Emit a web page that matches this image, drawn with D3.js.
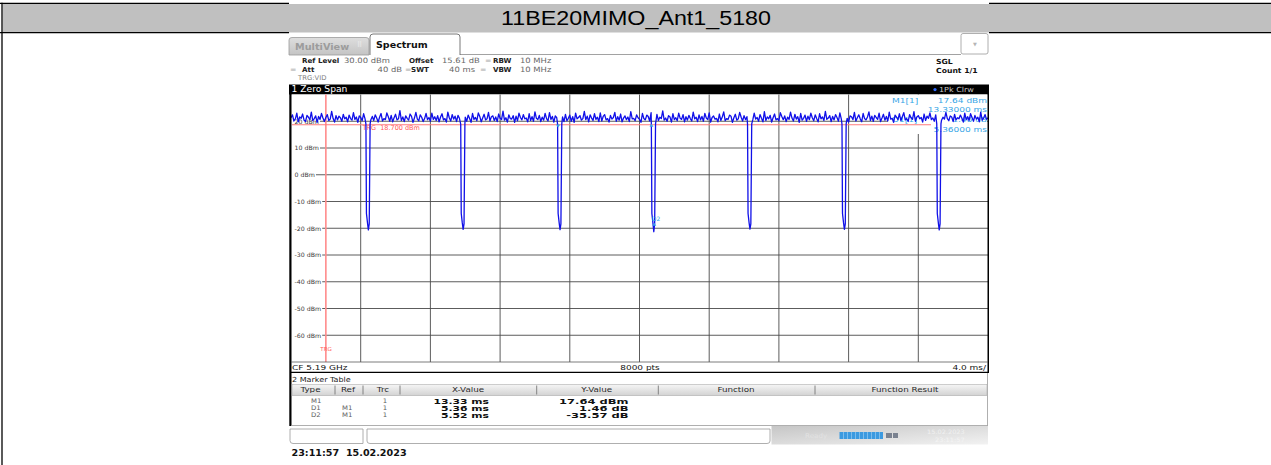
<!DOCTYPE html>
<html><head><meta charset="utf-8">
<script src="https://cdn.jsdelivr.net/npm/d3@7"></script>
<style>body{margin:0;background:#fff}svg{display:block}</style>
</head><body><svg id="c" width="1271" height="465"></svg>
<script>
// ---------------- data ----------------
const title = "11BE20MIMO_Ant1_5180";
const yTicks = [20, 10, 0, -10, -20, -30, -40, -50, -60];
const gridTimes = [2, 6, 10, 14, 18, 22, 26, 30, 34];
const timeDomain = [-2, 38];          // ms, trigger at 0
const levelDomain = [-70, 30];        // dBm
const trgLevel = 18.7;
const trgTime = 0;
const noiseLevels = [
21.3,22.4,20.1,20.9,23.0,19.8,21.6,21.1,22.7,20.4,19.9,22.2,21.5,20.6,23.4,20.2,21.0,22.0,19.6,21.8,
20.7,22.9,21.2,19.9,21.4,22.5,20.3,20.8,23.7,21.0,19.7,22.1,20.5,21.9,21.3,20.0,22.6,20.9,21.5,19.8,
22.3,21.0,20.4,23.2,20.7,21.6,19.6,22.0,21.4,20.2,22.8,20.9,21.1,19.9,23.5,20.6,21.8,20.3,22.4,21.2,
19.7,21.5,22.9,20.1,21.0,20.6,23.1,21.7,20.0,22.2,19.8,21.3,22.6,20.5,20.9,24.0,20.3,21.6,19.9,22.0,
21.1,20.4,22.7,21.8,19.6,21.2,23.3,20.8,20.2,22.4,21.5,19.9,21.0,22.9,20.6,21.4,20.0,23.0,20.7,21.7,
20.3,22.1,19.8,21.6,22.8,20.5,21.0,19.7,23.4,21.3,20.1,22.5,20.8,21.9,19.9,22.2,21.1,20.4,23.6,20.6,
21.5,20.0,22.3,21.0,19.6,22.9,20.7,21.4,20.2,23.1,21.8,19.8,21.2,22.6,20.5,20.9,23.3,20.1,21.7,22.0,
20.3,21.6,19.9,22.7,21.1,20.6,23.8,20.4,21.3,19.7,22.4,21.0,20.8,22.1,19.6,21.9,20.2,23.0,21.4,20.5,
22.5,20.9,21.2,19.8,22.8,20.3,21.7,20.0,23.5,21.1,20.6,22.2,19.9,21.5,20.4,22.9,21.0,20.1,23.2,20.7,
21.8,19.7,22.0,21.3,20.5,23.4,20.8,21.6,19.9,22.6,20.2,21.1,22.3,20.0,21.7,19.6,23.0,20.9,21.4,22.1,
20.4,21.0,23.7,20.6,21.9,19.8,22.4,21.2,20.3,22.8,20.7,21.5,19.9,23.1,20.1,21.8,22.5,20.5,21.0,19.7,
22.2,20.8,21.4,23.3,20.0,21.7,20.4,22.7,19.8,21.2,22.0,20.6,21.6,19.9,23.6,20.9,21.1,20.2,22.4,21.3,
20.7,19.6,22.9,21.0,20.5,22.3,21.8,20.1,23.2,20.8,21.4,19.9,22.6,20.3,21.5,21.0,23.9,20.4,21.2,20.0,
22.1,21.6,19.7,22.8,20.6,21.3,20.2,23.0,21.1,20.7,22.5,19.8,21.7,20.4,22.2,21.0,20.1,23.4,20.9,21.5,
19.9,22.4,20.5,21.8,20.0,22.9,21.2,20.6,23.1,19.7,21.4,22.0,20.8,21.1,19.8,22.7,20.3,21.6,23.5,20.2,
21.0,20.7,22.3,21.9,19.6,21.3,22.6,20.4,20.9,23.3,21.5,20.1,22.1,20.6,21.7,19.9,22.8,21.2,20.5,23.0,
20.8,21.4,20.0,22.5,21.1,19.8,23.6,20.3,21.6,20.9,22.2,19.7,21.3,22.7,20.5,21.0,20.2,23.2,21.8,20.6,
22.0,19.9,21.5,20.7,23.4,21.2,20.1,22.6,20.8,21.7,19.6,22.9,20.4,21.1,22.3,20.0,21.9,20.6,23.0,21.3,
20.2,22.4,21.0,19.8,22.8,20.9,21.6,20.3,23.7,20.7,21.2,22.1,19.9,21.8,20.5,22.5,21.4,20.0,23.1,20.8,
21.5,20.4,22.7,21.1,19.7,22.0,21.7,20.6,23.3,20.1,21.3,22.4,20.9,19.8,22.9,21.0,20.5,21.6,23.5,20.3,
21.9,20.0,22.2,21.4,20.7,23.0,19.9,21.2,22.6,20.4,21.8,20.1,23.4,20.8,21.1,19.6,22.3,21.5,20.6,22.8,
20.2,21.7,23.2,20.5,21.0,19.9,22.5,21.3,20.7,23.6,20.0,21.6,22.1,20.9,21.4,19.7,22.7,20.3,21.9,21.1,
23.1,20.6,21.2,20.0,22.4,21.8,19.8,22.9,20.4,21.5,20.8,23.3,21.0,20.2,22.0,21.6,19.9,22.6,20.5,21.3,
20.9,22.3,21.1,19.7,23.0,20.6,21.7,20.3,22.8,21.4,20.0,22.2,20.8,21.5,19.8,23.4,20.4,21.2,22.5,20.7,
21.3
];
const dipTimes = [2.30, 7.74, 13.30, 18.68, 24.20, 29.62, 35.06];   // ms
const dipMins  = [-20.6, -20.4, -20.5, -21.3, -20.3, -20.4, -20.6]; // dBm
const dipProfileTimes  = [0, 0.03, 0.09, 0.14, 0.19, 0.24];
const dipProfileLevels = [18.9, -14.5, -18.0, null, -18.4, 19.0];    // null = dip minimum
const markerNames  = ["M1", "D1", "D2"];
const markerTimes  = [13.33, 18.69, 18.85];
const markerLevels = [17.64, 19.10, -17.93];
const tableHeaders = ["Type", "Ref", "Trc", "X-Value", "Y-Value", "Function", "Function Result"];
const tableTypes = ["M1", "D1", "D2"];
const tableRefs  = ["", "M1", "M1"];
const tableTrcs  = ["1", "1", "1"];
const tableX     = ["13.33 ms", "5.36 ms", "5.52 ms"];
const tableY     = ["17.64 dBm", "1.46 dB", "-35.57 dB"];

// ---------------- drawing ----------------
const svg = d3.select("#c");
const defs = svg.append("defs");
function grad(id, x2, y2, c0, c1) {
  const g = defs.append("linearGradient").attr("id", id).attr("x1",0).attr("y1",0).attr("x2",x2).attr("y2",y2);
  g.append("stop").attr("offset","0").attr("stop-color",c0);
  g.append("stop").attr("offset","1").attr("stop-color",c1);
}
grad("hdr", 0, 1, "#f6f6f6", "#d2d2d2");
grad("st", 1, 1, "#c6c6c6", "#f2f2f2");
grad("tab", 0, 1, "#dedede", "#c4c4c4");

function txt(g, x, y, s, o = {}) {
  return g.append("text")
    .attr("transform", `translate(${x},${y}) scale(${o.sx || 1},1)`)
    .attr("font-family", o.ff || "DejaVu Sans")
    .attr("font-size", o.fs || 7)
    .attr("font-weight", o.fw || "normal")
    .attr("fill", o.fill || "#000")
    .attr("text-anchor", o.anchor || "start")
    .attr("dominant-baseline", "central")
    .style("white-space", "pre")
    .text(s);
}

// Word-table frame
svg.append("rect").attr("x",2.7).attr("y",4).attr("width",1271).attr("height",28.5).attr("fill","#c0c0c0");
[[0,289],[989,1271]].forEach(([a,b]) => {
  svg.append("line").attr("x1",a).attr("x2",b).attr("y1",3.3).attr("y2",3.3).attr("stroke","#000").attr("stroke-width",1.3);
  svg.append("line").attr("x1",a).attr("x2",b).attr("y1",32.6).attr("y2",32.6).attr("stroke","#000").attr("stroke-width",1.3);
});
svg.append("line").attr("x1",2).attr("x2",2).attr("y1",2.7).attr("y2",465).attr("stroke","#000").attr("stroke-width",1.3);
svg.append("text").attr("x",636).attr("y",25).attr("text-anchor","middle")
  .attr("font-family","Liberation Sans, Arial").attr("font-size",20).attr("fill","#000")
  .attr("textLength",270).attr("lengthAdjust","spacingAndGlyphs").text(title);

// screenshot area
const s = svg.append("g");
s.append("rect").attr("x",289).attr("y",33).attr("width",700).attr("height",425).attr("fill","#fff");

// tabs
s.append("path").attr("d","M289,55 L289,40 Q289,37.5 292,37.5 L366,37.5 Q369,37.5 369,40 L369,55 Z")
  .attr("fill","url(#tab)").attr("stroke","#9a9a9a").attr("stroke-width",0.8);
txt(s, 295, 46.5, "MultiView", {fs:9, fw:"bold", fill:"#9c9c9c", sx:1.08});
s.append("text").attr("x",357).attr("y",47).attr("font-size",7).attr("fill","#f4f4f4").attr("font-family","DejaVu Sans").text("⠿");
s.append("line").attr("x1",460).attr("x2",961).attr("y1",54.5).attr("y2",54.5).attr("stroke","#8a8a8a").attr("stroke-width",0.8);
s.append("path").attr("d","M370,55 L370,37 Q370,34 373,34 L457,34 Q460,34 460,37 L460,55")
  .attr("fill","#fff").attr("stroke","#6a6a6a").attr("stroke-width",0.9);
txt(s, 376, 44.5, "Spectrum", {fs:9, fw:"bold", fill:"#111", sx:1.06});
s.append("rect").attr("x",961).attr("y",33.5).attr("width",27).attr("height",20.5).attr("rx",2)
  .attr("fill","#fff").attr("stroke","#9a9a9a").attr("stroke-width",0.8);
txt(s, 975, 44, "▼", {fs:5, fill:"#b5b5b5", anchor:"middle"});

// info lines
const lab = {fs:6.8, sx:1.05, fw:"bold", fill:"#222"};
const val = {fs:7.3, sx:1.15, fill:"#666"};
const valE = Object.assign({anchor:"end"}, val);
const dot = {fs:7, sx:1.1, fill:"#a8a8a8"};
txt(s, 302, 61, "Ref Level", lab); txt(s, 344, 61, "30.00 dBm", val);
txt(s, 409, 61, "Offset", lab); txt(s, 442, 61, "15.61 dB", val);
txt(s, 485, 61, "=", dot); txt(s, 493, 61, "RBW", lab); txt(s, 520, 61, "10 MHz", val);
txt(s, 290, 70, "=", dot); txt(s, 302, 70, "Att", lab); txt(s, 402, 70, "40 dB", valE);
txt(s, 405, 70, "=", dot); txt(s, 411, 70, "SWT", lab); txt(s, 475, 70, "40 ms", valE);
txt(s, 480, 70, "=", dot); txt(s, 493, 70, "VBW", lab); txt(s, 520, 70, "10 MHz", val);
txt(s, 298, 78, "TRG:VID", {fs:6.5, fill:"#808080", sx:1.05});
txt(s, 936, 61.5, "SGL", {fs:7, fw:"bold", fill:"#111", sx:1.1});
txt(s, 936, 70.5, "Count 1/1", {fs:7, fw:"bold", fill:"#111", sx:1.1});

// plot panel
const x = d3.scaleLinear().domain(timeDomain).range([291, 988]);
const y = d3.scaleLinear().domain(levelDomain).range([362, 94.5]);
s.append("rect").attr("x",289).attr("y",84.5).attr("width",700).attr("height",10).attr("fill","#000");
txt(s, 291.5, 89.5, "1 Zero Span", {fs:8, fill:"#fff", sx:1.15});
s.append("circle").attr("cx",935).attr("cy",89.6).attr("r",1.6).attr("fill","#2f6bff");
txt(s, 939, 89.5, "1Pk Clrw", {fs:7, fill:"#c8c8c8", sx:1.15});
s.append("rect").attr("x",291.5).attr("y",94.5).attr("width",696).attr("height",267.5).attr("fill","#fff");

const grid = s.append("g");
grid.selectAll("line.v").data(gridTimes).join("line").attr("class","v")
  .attr("x1",d=>x(d)).attr("x2",d=>x(d)).attr("y1",y(levelDomain[1])).attr("y2",y(levelDomain[0]))
  .attr("stroke","#4a4a4a").attr("stroke-width",0.9);
grid.selectAll("line.h").data(yTicks).join("line").attr("class","h")
  .attr("x1",292).attr("x2",988).attr("y1",d=>y(d)).attr("y2",d=>y(d))
  .attr("stroke","#4a4a4a").attr("stroke-width",0.9);
yTicks.forEach(v => {
  const t = txt(grid, 294.5, y(v), v + " dBm", {fs:6, fill:"#3a3a3a", sx:1.05});
  const bb = t.node().getBBox();
  grid.insert("rect", () => t.node()).attr("x",292).attr("y",y(v)-3).attr("width",(bb.width*1.05)+3.5).attr("height",6).attr("fill","#fff");
});

// marker info box
s.append("rect").attr("x",888).attr("y",95).attr("width",99).attr("height",39).attr("fill","#fff");
const cy = "#38a6e6";
txt(s, 892, 100, "M1[1]", {fs:7.5, fill:cy, sx:1.2});
txt(s, 987, 100, "17.64 dBm", {fs:7.5, fill:cy, sx:1.2, anchor:"end"});
txt(s, 987, 109.3, "13.33000 ms", {fs:7.5, fill:cy, sx:1.2, anchor:"end"});
txt(s, 892, 119, "D1[1]", {fs:7.5, fill:cy, sx:1.2});
txt(s, 987, 119, "1.46 dB", {fs:7.5, fill:cy, sx:1.2, anchor:"end"});

// trigger lines
s.append("line").attr("x1",x(trgTime)).attr("x2",x(trgTime)).attr("y1",94.5).attr("y2",362)
  .attr("stroke","#ff8c8c").attr("stroke-width",1.6);
s.append("line").attr("x1",292).attr("x2",931).attr("y1",y(trgLevel)).attr("y2",y(trgLevel))
  .attr("stroke","#ff7b7b").attr("stroke-width",1.2);
txt(s, 362.5, y(trgLevel)+3.3, "TRG  18.700 dBm", {fs:6.5, fill:"#ff5a5a"});
txt(s, 326, 348.5, "TRG", {fs:5.5, fill:"#ff5a5a", anchor:"middle"});
s.append("rect").attr("x",931).attr("y",125).attr("width",56).attr("height",9).attr("fill","#fff");
txt(s, 987, 129.3, "5.36000 ms", {fs:7.5, fill:cy, sx:1.2, anchor:"end"});

// trace
const nStep = (timeDomain[1] - timeDomain[0]) / (noiseLevels.length - 1);
let pts = noiseLevels.map((v, i) => ({t: timeDomain[0] + i * nStep, v}));
dipTimes.forEach((t0, k) => {
  const tEnd = t0 + dipProfileTimes[dipProfileTimes.length - 1];
  pts = pts.filter(p => p.t < t0 || p.t > tEnd);
  dipProfileTimes.forEach((dt, j) => {
    const lv = dipProfileLevels[j];
    pts.push({t: t0 + dt, v: lv === null ? dipMins[k] : lv});
  });
});
pts.sort((a, b) => a.t - b.t);
const line = d3.line().x(d => x(d.t)).y(d => y(d.v));
s.append("path").datum(pts).attr("d", line).attr("fill","none")
  .attr("stroke","#1010e8").attr("stroke-width",1.3).attr("stroke-linejoin","round");

// markers
markerNames.forEach((m, i) => {
  const mx = x(markerTimes[i]), my = y(markerLevels[i]);
  if (m === "M1") {
    s.append("path").attr("d",`M${mx-2.2},${my-3} L${mx+2.2},${my-3} L${mx},${my} Z`).attr("fill",cy);
  } else {
    s.append("path").attr("d",`M${mx-2},${my+3} L${mx+2},${my+3} L${mx},${my} Z`).attr("fill",cy);
    if (m === "D2") txt(s, mx-2.5, my-4.5, m, {fs:6, fill:cy});
  }
});

// panel borders
s.append("rect").attr("x",289.3).attr("y",94).attr("width",2.2).attr("height",332).attr("fill","#000");
s.append("rect").attr("x",987.5).attr("y",94).attr("width",1.5).attr("height",279).attr("fill","#000");
s.append("line").attr("x1",291).attr("x2",988).attr("y1",362).attr("y2",362).attr("stroke","#5a5a5a").attr("stroke-width",0.8);
s.append("line").attr("x1",291).attr("x2",989).attr("y1",372.3).attr("y2",372.3).attr("stroke","#000").attr("stroke-width",1.2);
txt(s, 292, 367, "CF 5.19 GHz", {fs:7.6, fill:"#111", sx:1.18});
txt(s, 640, 367, "8000 pts", {fs:7.6, fill:"#111", sx:1.18, anchor:"middle"});
txt(s, 986, 367, "4.0 ms/", {fs:7.6, fill:"#111", sx:1.18, anchor:"end"});
s.append("line").attr("x1",987.5).attr("x2",987.5).attr("y1",373).attr("y2",425.5).attr("stroke","#9a9a9a").attr("stroke-width",0.8);
s.append("line").attr("x1",291).attr("x2",988).attr("y1",425.5).attr("y2",425.5).attr("stroke","#9a9a9a").attr("stroke-width",0.8);

// marker table
txt(s, 292, 379.3, "2 Marker Table", {fs:7, fill:"#222", sx:1.15});
s.append("rect").attr("x",292).attr("y",384.3).attr("width",695).attr("height",11.4).attr("fill","url(#hdr)")
  .attr("stroke","#b0b0b0").attr("stroke-width",0.6);
const colSeps = [335, 363, 400, 536.7, 658.3, 815];
const colCenters = [310.5, 348, 383, 468, 596.7, 736, 905];
colSeps.forEach(c => s.append("line").attr("x1",c).attr("x2",c).attr("y1",385.5).attr("y2",394.5).attr("stroke","#6a6a6a").attr("stroke-width",0.8));
tableHeaders.forEach((h, i) => txt(s, colCenters[i], 390, h, {fs:7.3, fill:"#2a2a2a", sx:1.2, anchor:"middle"}));
const rowY = [401, 408, 415];
tableTypes.forEach((tp, r) => {
  txt(s, 311, rowY[r], tp, {fs:6.3, fill:"#606060", sx:1.1});
  txt(s, 342, rowY[r], tableRefs[r], {fs:6.3, fill:"#606060", sx:1.1});
  txt(s, 385, rowY[r], tableTrcs[r], {fs:6.3, fill:"#606060", sx:1.1, anchor:"middle"});
  txt(s, 489, rowY[r], tableX[r], {fs:7.2, fw:"bold", fill:"#111", sx:1.5, anchor:"end"});
  txt(s, 628.5, rowY[r], tableY[r], {fs:7.2, fw:"bold", fill:"#111", sx:1.6, anchor:"end"});
});

// status bar
s.append("rect").attr("x",771.5).attr("y",426).attr("width",216.5).attr("height",18.5).attr("fill","url(#st)");
s.append("path").attr("d","M290,429 L363,429 L363,443.5 L293,443.5 Q290,443.5 290,440.5 Z").attr("fill","#fff").attr("stroke","#9a9a9a").attr("stroke-width",0.8);
s.append("path").attr("d","M367,429 L770,429 L770,441 Q770,443.5 767,443.5 L370,443.5 Q367,443.5 367,441 Z").attr("fill","#fff").attr("stroke","#9a9a9a").attr("stroke-width",0.8);
txt(s, 805, 436, "Ready", {fs:6.5, fill:"#e2e2e2", sx:1.1});
s.append("rect").attr("x",839.5).attr("y",432).attr("width",43.5).attr("height",7).attr("fill","#3c9ae0");
d3.range(10).forEach(i => s.append("line").attr("x1",843.5+i*4).attr("x2",843.5+i*4).attr("y1",432).attr("y2",439).attr("stroke","#a8d4f4").attr("stroke-width",0.6));
s.append("rect").attr("x",886).attr("y",433).attr("width",6).attr("height",5).attr("fill","#7a8290");
s.append("rect").attr("x",893).attr("y",433).attr("width",5).attr("height",5).attr("fill","#7a8290");
txt(s, 927, 431.5, "15.02.2023", {fs:6, fill:"#f0f0f0", sx:1.1});
txt(s, 935, 439.5, "23:11:57", {fs:6, fill:"#f4f4f4", sx:1.1});

// timestamp
txt(svg, 291.5, 453.2, "23:11:57  15.02.2023", {fs:8, fw:"bold", fill:"#111", sx:1.2});
</script>
</body></html>
